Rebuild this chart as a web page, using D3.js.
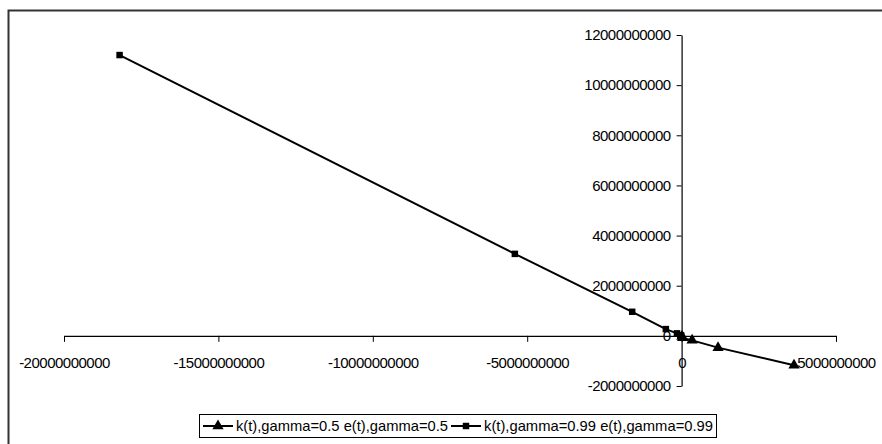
<!DOCTYPE html>
<html>
<head>
<meta charset="utf-8">
<script src="https://cdn.jsdelivr.net/npm/d3@7"></script>
<style>
  html, body { margin: 0; padding: 0; background: #fff; overflow: hidden; }
  svg { display: block; }
  text { font-family: "Liberation Sans", Arial, sans-serif; fill: #000; }
</style>
</head>
<body>
<svg id="chart" width="882" height="444"></svg>
<script>
// k(t) and e(t) paths for two values of gamma
const seriesNames = ["k(t),gamma=0.5 e(t),gamma=0.5", "k(t),gamma=0.99 e(t),gamma=0.99"];

const kGamma05 = [0.01e9, 0.035e9, 0.34e9, 1.18e9, 3.64e9];
const eGamma05 = [-0.03e9, -0.08e9, -0.18e9, -0.47e9, -1.17e9];

const kGamma099 = [-18.2e9, -5.4e9, -1.6e9, -0.51e9, -0.15e9, -0.045e9, -0.012e9];
const eGamma099 = [11.2e9, 3.27e9, 0.96e9, 0.27e9, 0.1e9, 0.03e9, 0.01e9];

const xTicks = [-20000000000, -15000000000, -10000000000, -5000000000, 0, 5000000000];
const yTicks = [-2000000000, 0, 2000000000, 4000000000, 6000000000, 8000000000, 10000000000, 12000000000];

const svg = d3.select("#chart");

// chart area frame (top and left edges fall inside the view)
svg.append("path")
  .attr("d", "M8.5,444 V10.5 H882")
  .attr("fill", "none").attr("stroke", "#333").attr("stroke-width", 2);

const x = d3.scaleLinear().domain([-20000000000, 5000000000]).range([64, 836]);
const y = d3.scaleLinear().domain([-2000000000, 12000000000]).range([386, 35]);

// plain integers with an ASCII hyphen for negatives
const fmt = d => String(d);

// x axis runs through y = 0
const xAxis = svg.append("g")
  .attr("transform", `translate(0,${y(0)})`)
  .call(d3.axisBottom(x).tickValues(xTicks).tickFormat(fmt).tickSize(6).tickSizeOuter(0).tickPadding(16));
// y axis runs through x = 0
const yAxis = svg.append("g")
  .attr("transform", `translate(${x(0)},0)`)
  .call(d3.axisLeft(y).tickValues(yTicks).tickFormat(fmt).tickSize(5).tickSizeOuter(0).tickPadding(6));

[xAxis, yAxis].forEach(g => {
  g.select(".domain").attr("stroke", "#000").attr("stroke-width", 1.2);
  g.selectAll(".tick line").attr("stroke", "#000").attr("stroke-width", 1);
  g.selectAll(".tick text")
    .style("font-family", "'Liberation Sans', Arial, sans-serif")
    .style("font-size", "15px")
    .style("letter-spacing", "-0.5px")
    .attr("fill", "#000");
});

const line = d3.line().x(d => x(d[0])).y(d => y(d[1]));

const pts05 = kGamma05.map((k, i) => [k, eGamma05[i]]);
const pts099 = kGamma099.map((k, i) => [k, eGamma099[i]]);

const tri = d3.symbol().type(d3.symbolTriangle).size(55);
const sq = d3.symbol().type(d3.symbolSquare).size(42);

[[pts099, sq], [pts05, tri]].forEach(([pts, sym]) => {
  svg.append("path").datum(pts)
    .attr("d", line).attr("fill", "none")
    .attr("stroke", "#000").attr("stroke-width", 2);
  svg.append("g").selectAll("path").data(pts).join("path")
    .attr("transform", d => `translate(${x(d[0])},${y(d[1])})`)
    .attr("d", sym).attr("fill", "#000");
});

// legend
const legend = svg.append("g");
legend.append("rect")
  .attr("x", 199.5).attr("y", 414.5).attr("width", 517).attr("height", 23)
  .attr("fill", "#fff").attr("stroke", "#000").attr("stroke-width", 1);

const legendItems = [
  { name: seriesNames[0], sym: tri, x0: 203, w: 212 },
  { name: seriesNames[1], sym: sq, x0: 451, w: 229 }
];
legendItems.forEach(it => {
  legend.append("line")
    .attr("x1", it.x0).attr("x2", it.x0 + 30)
    .attr("y1", 426).attr("y2", 426)
    .attr("stroke", "#000").attr("stroke-width", 2);
  legend.append("path")
    .attr("transform", `translate(${it.x0 + 15},426)`)
    .attr("d", it.sym).attr("fill", "#000");
  legend.append("text")
    .attr("x", it.x0 + 33).attr("y", 431)
    .attr("textLength", it.w).attr("lengthAdjust", "spacingAndGlyphs")
    .style("font-size", "15px")
    .text(it.name);
});
</script>
</body>
</html>
